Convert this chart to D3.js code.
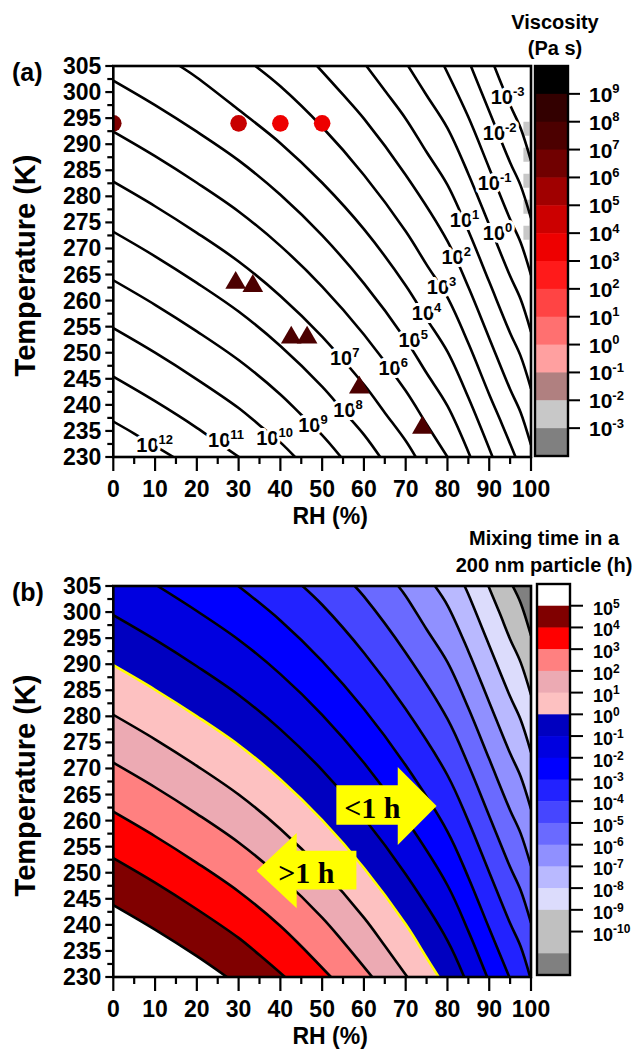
<!DOCTYPE html>
<html><head><meta charset="utf-8">
<script src="https://cdn.jsdelivr.net/npm/d3@7"></script>
<style>
body{margin:0;background:#fff}
text{font-family:"Liberation Sans",Arial,sans-serif;font-weight:bold;fill:#000}
</style>
</head><body>
<svg id="chart" width="642" height="1051"></svg>
<script>
// ---------------- data ----------------
const rhTicks = [0,10,20,30,40,50,60,70,80,90,100];
const tempTicks = [230,235,240,245,250,255,260,265,270,275,280,285,290,295,300,305];

// Panel (a): viscosity contour lines, [exponent, [[RH, T], ...]]
const viscContours = [
  [12, [[0,236.8],[5,234.5],[10,232.1],[14.4,230]]],
  [11, [[0,245.4],[10,240.7],[20,235.6],[25,232.8],[30.1,230]]],
  [10, [[0,254.7],[10,250.0],[20,244.9],[30,239.4],[35,236.1],[40,232.8],[43.5,230]]],
  [9,  [[0,263.9],[10,259.2],[20,254.1],[30,248.6],[40,242.0],[45,238.1],[50,234.2],[54.5,230]]],
  [8,  [[0,273.2],[10,268.5],[20,263.4],[30,257.9],[40,251.3],[50,243.5],[55,238.9],[60,234.3],[63.9,230]]],
  [7,  [[0,282.8],[10,278.1],[20,273.0],[30,267.5],[40,260.9],[50,253.1],[60,243.9],[65,238.5],[70,233.1],[72.4,230]]],
  [6,  [[0,292.4],[10,287.7],[20,282.6],[30,277.1],[40,270.5],[50,262.7],[60,253.5],[70,242.7],[75,236.3],[80,230]]],
  [5,  [[0,302.2],[10,297.5],[20,292.4],[30,286.9],[40,280.3],[50,272.5],[60,263.3],[70,252.5],[75,246.1],[80,239.8],[85.5,230]]],
  [4,  [[15.9,305],[20,302.8],[30,296.6],[40,290.2],[50,282.6],[60,273.7],[70,262.9],[75,256.5],[80,250.2],[85,241.4],[90.8,230]]],
  [3,  [[34.0,305],[40,301.1],[50,293.3],[60,284.1],[70,273.3],[75,266.9],[80,260.6],[85,251.8],[90,242.0],[93,236.4],[96.3,230]]],
  [2,  [[48.8,305],[55,299.5],[60,294.9],[70,284.1],[80,271.4],[85,262.6],[90,252.8],[95,243.0],[97.5,238.6],[100,232.3]]],
  [1,  [[60.6,305],[65,300.3],[70,294.9],[75,288.5],[80,282.2],[85,273.4],[90,263.6],[95,253.8],[97.5,249.4],[100,243.1]]],
  [0,  [[70.6,305],[75,299.4],[80,293.1],[85,284.3],[90,274.5],[95,264.7],[97.5,260.3],[100,254.0]]],
  [-1, [[79.2,305],[85,295.2],[90,285.4],[95,275.6],[97.5,271.2],[100,264.9]]],
  [-2, [[85.6,305],[90,296.3],[95,286.5],[97.5,282.1],[100,275.8]]],
  [-3, [[91.2,305],[95,297.5],[97.5,293.1],[100,286.8]]]
];
// contour label positions [exponent, RH, T]
const viscLabels = [
  [-3,94.4,299.1],[-2,92.5,292.1],[-1,91.3,282.5],[0,92,273],[1,84.1,275.5],
  [2,82.1,268.4],[3,78.6,262.7],[4,75,257.6],[5,71.8,252.4],[6,67,247],
  [7,55.4,248.9],[8,56.2,239],[9,47.8,236.1],[10,38.6,233.6],[11,27,233.3],[12,9.9,232.3]
];
// measurement points
const circleRH = [0,30,40,50];
const circleT = [294,294,294,294];
const circleColor = ["#7e0000","#c80000","#ee0000","#ee0000"];
const triRH = [29.3,33.4,42.6,46.4,58.9,74];
const triT = [263.6,263.0,253.1,253.1,243.5,235.8];

// viscosity colour bar, top to bottom
const viscBarColors = ["#000000","#330000","#4c0000","#700000","#a00000","#cc0000","#ee0000",
  "#ff1a1a","#ff4444","#ff7070","#ffa0a0","#b08080","#c8c8c8","#808080"];
const viscBarExp = [9,8,7,6,5,4,3,2,1,0,-1,-2,-3];

// Panel (b): mixing-time contour lines, [exponent, [[RH, T], ...]]
const mixContours = [
  [5,  [[0,243.8],[10,239.1],[20,234.0],[27.2,230]]],
  [4,  [[0,252.8],[10,248.1],[20,243.0],[30,237.5],[35,234.2],[41.1,230]]],
  [3,  [[0,261.7],[10,257.0],[20,251.9],[30,246.4],[40,239.8],[45,235.9],[52.1,230]]],
  [2,  [[0,271.1],[10,266.4],[20,261.3],[30,255.8],[40,249.2],[50,241.4],[55,236.8],[62.0,230]]],
  [1,  [[0,280.3],[10,275.6],[20,270.5],[30,265.0],[40,258.4],[50,250.6],[60,241.4],[65,236.0],[70.4,230]]],
  [0,  [[0,289.8],[10,285.1],[20,280.0],[30,274.5],[40,267.9],[50,260.1],[60,250.9],[70,240.1],[75,233.7],[77.9,230]]],
  [-1, [[0,299.4],[10,294.7],[20,289.6],[30,284.1],[40,277.5],[50,269.7],[60,260.5],[70,249.7],[80,237.0],[84.0,230]]],
  [-2, [[10.6,305],[20,300.2],[30,294.7],[40,288.1],[50,280.3],[60,271.1],[70,260.3],[80,247.6],[85,238.8],[89.5,230]]],
  [-3, [[29.9,305],[40,298.4],[50,290.6],[60,281.4],[70,270.6],[80,257.9],[85,249.1],[90,239.3],[94.8,230]]],
  [-4, [[45.3,305],[50,301.4],[60,292.2],[70,281.4],[80,268.7],[85,259.9],[90,250.1],[95,240.3],[97.5,235.9],[99.8,230]]],
  [-5, [[57.8,305],[60,303.0],[70,292.2],[80,279.5],[85,270.7],[90,260.9],[95,251.1],[97.5,246.7],[100,240.4]]],
  [-6, [[68.2,305],[70,303.1],[75,296.7],[80,290.4],[85,281.6],[90,271.8],[95,262.0],[97.5,257.6],[100,251.3]]],
  [-7, [[77.0,305],[80,301.3],[85,292.5],[90,282.7],[95,272.9],[97.5,268.5],[100,262.2]]],
  [-8, [[84.1,305],[85,303.4],[90,293.6],[95,283.8],[97.5,279.4],[100,273.1]]],
  [-9, [[89.8,305],[92.5,299.8],[95,294.8],[97.5,290.4],[100,284.1]]],
  [-10,[[95.6,305],[97.5,301.8],[100,295.5]]]
];
// band colours: value between 10^e and 10^(e+1), keyed by e; "below" is < 10^-10
const mixBandColor = {"5":"#ffffff","4":"#800000","3":"#ff0000","2":"#ff8080","1":"#ecaab3","0":"#fdc1c1",
  "-1":"#0000c0","-2":"#0000e0","-3":"#0000ff","-4":"#2222ff","-5":"#4646ff","-6":"#6a6aff",
  "-7":"#9090ff","-8":"#b9b9ff","-9":"#dcdcfc","-10":"#c0c0c0","below":"#808080"};
const mixBarExp = [5,4,3,2,1,0,-1,-2,-3,-4,-5,-6,-7,-8,-9,-10];

// arrow annotations (RH, T)
const arrowRight = {bodyL:53.4, bodyR:68.1, tip:77.4, bodyTop:266.8, bodyBot:259.2, headTop:270.3, headBot:255.3, tipT:262.8, text:"<1 h", textRH:62.0, textT:262.4};
const arrowLeft  = {bodyL:58.2, bodyR:43.9, tip:34.3, bodyTop:254.2, bodyBot:246.8, headTop:257.6, headBot:243.2, tipT:250.4, text:">1 h", textRH:46.2, textT:250.0};

// ---------------- drawing ----------------
const svg = d3.select("#chart");
const X0 = 113.3, X1 = 531;
const panels = [{top:66, bottom:457, tag:"(a)"},{top:586, bottom:977, tag:"(b)"}];
const x = d3.scaleLinear().domain([0,100]).range([X0,X1]);

function yScale(p){ return d3.scaleLinear().domain([230,305]).range([p.bottom,p.top]); }

function axes(g, y, p){
  const xt = d3.range(0,101,5);
  g.selectAll(".xt").data(xt).join("line")
    .attr("x1",d=>x(d)).attr("x2",d=>x(d)).attr("y1",p.bottom).attr("y2",d=>p.bottom+(d%10===0?14:7))
    .attr("stroke","#000").attr("stroke-width",2.2);
  const yt = d3.range(230,305.1,2.5);
  g.selectAll(".yt").data(yt).join("line")
    .attr("x1",X0).attr("x2",d=>X0-(d%5===0?8:6)).attr("y1",d=>y(d)).attr("y2",d=>y(d))
    .attr("stroke","#000").attr("stroke-width",2.2);
  g.selectAll(".xl").data(rhTicks).join("text")
    .attr("x",d=>x(d)).attr("y",p.bottom+40).attr("text-anchor","middle")
    .style("font-size","23px").text(d=>d);
  g.selectAll(".yl").data(tempTicks).join("text")
    .attr("x",X0-12).attr("y",d=>y(d)+8).attr("text-anchor","end")
    .style("font-size","23px").text(d=>d);
  g.append("text").attr("x",(X0+X1)/2+8).attr("y",p.bottom+67).attr("text-anchor","middle")
    .style("font-size","23px").text("RH (%)");
  g.append("text").attr("transform",`translate(35,${(p.top+p.bottom)/2+4}) rotate(-90)`)
    .attr("text-anchor","middle").style("font-size","29px").text("Temperature (K)");
  g.append("text").attr("x",12).attr("y",p.top+15).style("font-size","25px").text(p.tag);
}

function expLabel(sel, e, base, sup){
  sel.append("tspan").style("font-size",base+"px").text("10");
  sel.append("tspan").style("font-size",sup+"px").attr("dy",-base*0.4).text(e);
}

const lineGen = (y) => d3.line().x(d=>x(d[0])).y(d=>y(d[1])).curve(d3.curveCatmullRom.alpha(0.5));

// ---- Panel (a)
{
  const p = panels[0], y = yScale(p);
  const g = svg.append("g");
  g.append("clipPath").attr("id","clipA").append("rect")
    .attr("x",X0).attr("y",p.top).attr("width",X1-X0).attr("height",p.bottom-p.top);
  const pg = g.append("g").attr("clip-path","url(#clipA)");
  pg.append("line").attr("x1",x(98.9)).attr("x2",x(98.9)).attr("y1",y(294.3)).attr("y2",y(271.6))
    .attr("stroke","#c8c8c8").attr("stroke-width",6).attr("stroke-dasharray","14,12");
  pg.selectAll(".cl").data(viscContours).join("path")
    .attr("d",d=>lineGen(y)(d[1])).attr("fill","none").attr("stroke","#000").attr("stroke-width",2.6);
  const lab = pg.selectAll(".lab").data(viscLabels).join("text")
    .attr("x",d=>x(d[1])).attr("y",d=>y(d[2])+7).attr("text-anchor","middle")
    .attr("stroke","#fff").attr("stroke-width",6).attr("paint-order","stroke").attr("stroke-linejoin","round");
  lab.each(function(d){ expLabel(d3.select(this), d[0], 20, 13); });
  pg.selectAll(".cir").data(circleRH).join("circle")
    .attr("cx",d=>x(d)).attr("cy",(d,i)=>y(circleT[i])).attr("r",8.3).attr("fill",(d,i)=>circleColor[i]);
  pg.selectAll(".tri").data(triRH).join("path")
    .attr("transform",(d,i)=>`translate(${x(d)},${y(triT[i])+1})`)
    .attr("d",d3.symbol().type(d3.symbolTriangle).size(185)).attr("fill","#4c0000");
  g.append("rect").attr("x",X0).attr("y",p.top).attr("width",X1-X0).attr("height",p.bottom-p.top)
    .attr("fill","none").attr("stroke","#000").attr("stroke-width",2.6);
  axes(g,y,p);
  const cb = d3.scaleBand().domain(d3.range(viscBarColors.length)).range([66,456]);
  g.selectAll(".cb").data(viscBarColors).join("rect")
    .attr("x",535).attr("width",33).attr("y",(d,i)=>cb(i)).attr("height",cb.bandwidth()+0.5).attr("fill",d=>d);
  g.append("rect").attr("x",535).attr("y",66).attr("width",33).attr("height",390)
    .attr("fill","none").attr("stroke","#000").attr("stroke-width",2.4);
  g.selectAll(".cbt").data(viscBarExp).join("line")
    .attr("x1",568).attr("x2",580).attr("y1",(d,i)=>cb(i+1)).attr("y2",(d,i)=>cb(i+1))
    .attr("stroke","#000").attr("stroke-width",2);
  const cbl = g.selectAll(".cbl").data(viscBarExp).join("text")
    .attr("x",589).attr("y",(d,i)=>cb(i+1)+8);
  cbl.each(function(d){ expLabel(d3.select(this), d, 21, 13); });
  g.append("text").attr("x",555).attr("y",29).attr("text-anchor","middle").style("font-size","20px").text("Viscosity");
  g.append("text").attr("x",555).attr("y",55).attr("text-anchor","middle").style("font-size","20px").text("(Pa s)");
}

// ---- Panel (b)
{
  const p = panels[1], y = yScale(p);
  const g = svg.append("g");
  g.append("clipPath").attr("id","clipB").append("rect")
    .attr("x",X0).attr("y",p.top).attr("width",X1-X0).attr("height",p.bottom-p.top);
  const pg = g.append("g").attr("clip-path","url(#clipB)");
  pg.append("rect").attr("x",X0).attr("y",p.top).attr("width",X1-X0).attr("height",p.bottom-p.top)
    .attr("fill",mixBandColor.below);
  const lg = lineGen(y);
  const ordered = mixContours.slice().sort((a,b)=>a[0]-b[0]);
  function region(pts){
    let dpath = lg(pts);
    const s = pts[0], e = pts[pts.length-1];
    const extra = [];
    if (e[0] >= 100) extra.push([100,230]);
    extra.push([0,230]);
    if (s[1] >= 305) extra.push([0,305]);
    extra.forEach(c=>{ dpath += `L${x(c[0])},${y(c[1])}`; });
    return dpath + "Z";
  }
  pg.selectAll(".band").data(ordered).join("path")
    .attr("d",d=>region(d[1])).attr("fill",d=>mixBandColor[String(d[0])]);
  pg.selectAll(".cl").data(ordered).join("path")
    .attr("d",d=>lg(d[1])).attr("fill","none")
    .attr("stroke",d=>d[0]===0?"#ffff00":"#000").attr("stroke-width",2.6);
  function arrow(a){
    const pts = [[a.bodyL,a.bodyTop],[a.bodyR,a.bodyTop],[a.bodyR,a.headTop],[a.tip,a.tipT],
                 [a.bodyR,a.headBot],[a.bodyR,a.bodyBot],[a.bodyL,a.bodyBot]];
    pg.append("path").attr("d","M"+pts.map(q=>`${x(q[0])},${y(q[1])}`).join("L")+"Z").attr("fill","#ffff00");
    pg.append("text").attr("x",x(a.textRH)).attr("y",y(a.textT)+10).attr("text-anchor","middle")
      .style("font-family","'Liberation Serif','Times New Roman',serif").style("font-size","30px").text(a.text);
  }
  arrow(arrowRight);
  arrow(arrowLeft);
  g.append("rect").attr("x",X0).attr("y",p.top).attr("width",X1-X0).attr("height",p.bottom-p.top)
    .attr("fill","none").attr("stroke","#000").attr("stroke-width",2.6);
  axes(g,y,p);
  const barCols = ["#ffffff"].concat(mixBarExp.slice(1).map(e=>mixBandColor[String(e)])).concat([mixBandColor["-10"],mixBandColor.below]);
  const cb = d3.scaleBand().domain(d3.range(barCols.length)).range([584,975]);
  g.selectAll(".cb").data(barCols).join("rect")
    .attr("x",537).attr("width",33).attr("y",(d,i)=>cb(i)).attr("height",cb.bandwidth()+0.5).attr("fill",d=>d);
  g.append("rect").attr("x",537).attr("y",584).attr("width",33).attr("height",391)
    .attr("fill","none").attr("stroke","#000").attr("stroke-width",2.4);
  g.selectAll(".cbt").data(mixBarExp).join("line")
    .attr("x1",570).attr("x2",583).attr("y1",(d,i)=>cb(i+1)).attr("y2",(d,i)=>cb(i+1))
    .attr("stroke","#000").attr("stroke-width",2);
  const cbl = g.selectAll(".cbl").data(mixBarExp).join("text")
    .attr("x",593).attr("y",(d,i)=>cb(i+1)+9);
  cbl.each(function(d){ expLabel(d3.select(this), d, 18, 12); });
  g.append("text").attr("x",544).attr("y",545).attr("text-anchor","middle").style("font-size","20px").text("Mixing time in a");
  g.append("text").attr("x",544).attr("y",572).attr("text-anchor","middle").style("font-size","20px").text("200 nm particle (h)");
}
</script>
</body></html>
